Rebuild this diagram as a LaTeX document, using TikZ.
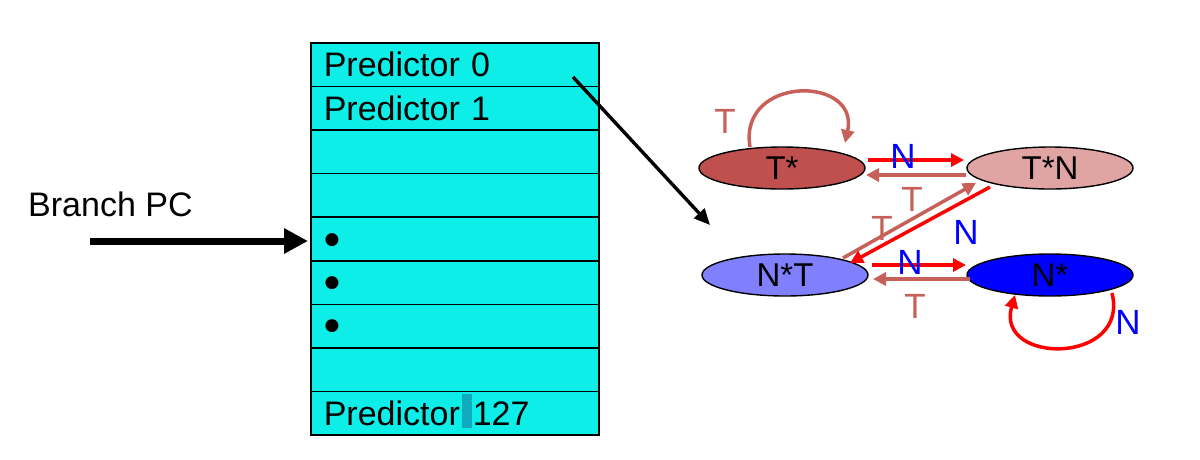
\documentclass[tikz,border=0pt]{standalone}
\usepackage{fontspec}
\setmainfont{Liberation Sans}
\newfontfamily\dejavufam{DejaVu Sans}
\usetikzlibrary{arrows.meta,shapes.geometric}
\definecolor{cyanfill}{RGB}{14,238,232}
\definecolor{hlteal}{RGB}{16,170,190}
\definecolor{tsfill}{RGB}{192,80,77}
\definecolor{tnfill}{RGB}{224,164,162}
\definecolor{ntfill}{RGB}{128,128,255}
\definecolor{nsfill}{RGB}{0,0,255}
\definecolor{brarrow}{RGB}{200,96,90}
\definecolor{lblblue}{RGB}{0,0,255}
\tikzset{
  tablerow/.style={draw=black, line width=1.6pt, fill=cyanfill, anchor=north west,
    minimum width=288pt, minimum height=43.6pt, text width=262pt, inner xsep=13pt,
    align=left, font=\fontsize{34}{38}\selectfont},
  bulletdot/.style={inner sep=0pt, font=\dejavufam\fontsize{17}{18}\selectfont},
  state/.style={ellipse, draw=black, line width=1.4pt, minimum width=166pt,
    minimum height=42pt, inner sep=0pt, font=\fontsize{33}{36}\selectfont},
  redarr/.style={draw=red, line width=3.5pt, -{Triangle[length=13pt,width=13pt]}},
  brarr/.style={draw=brarrow, line width=3.5pt, -{Triangle[length=13pt,width=13pt]}},
  lblT/.style={text=brarrow, font=\fontsize{35}{38}\selectfont, inner sep=0pt},
  lblN/.style={text=lblblue, font=\fontsize{35}{38}\selectfont, inner sep=0pt},
  bigtext/.style={font=\fontsize{34}{38}\selectfont, inner sep=0pt}
}
\begin{document}
\begin{tikzpicture}[x=1pt,y=-1pt]
\path[use as bounding box] (0,0) rectangle (1200,459);
% table
\node[tablerow] (r0) at (310,42.0) {Predictor 0};
\node[tablerow] (r1) at (310,85.6) {Predictor 1};
\node[tablerow] (r2) at (310,129.2) {};
\node[tablerow] (r3) at (310,172.8) {};
\node[tablerow] (r4) at (310,216.4) {};
\node[tablerow] (r5) at (310,260.0) {};
\node[tablerow] (r6) at (310,303.6) {};
\node[tablerow] (r7) at (310,347.2) {};
\node[tablerow] (r8) at (310,390.8) {Predictor\hspace{13pt}127};
\fill[hlteal] (462,394) rectangle (472,428);
\node[bulletdot] (b4) at (332,240) {●};
\node[bulletdot] (b5) at (332,283) {●};
\node[bulletdot] (b6) at (332,326) {●};
% Branch PC
\node[bigtext, anchor=west] (bpc) at (28,204) {Branch PC};
\coordinate (bpcstart) at (90,241);
\coordinate (bpcend) at (308,241);
\draw[line width=7pt, -{Triangle[length=24pt,width=24pt]}] (bpcstart) -- (bpcend);
% pointer arrow
\coordinate (ptrstart) at (573,77);
\coordinate (ptrend) at (710,225);
\draw[line width=3.4pt, -{Triangle[length=16pt,width=14pt]}] (ptrstart) -- (ptrend);
% states
\node[state, fill=tsfill] (ts) at (782,168) {T*};
\node[state, fill=tnfill] (tn) at (1050,168) {T*N};
\node[state, fill=ntfill] (nt) at (785,275) {N*T};
\node[state, fill=nsfill] (ns) at (1050,275) {N*};
% transitions
\draw[redarr] ([shift={(86,-8)}]ts.center) -- ([shift={(-86,-8)}]tn.center);
\draw[brarr] ([shift={(-84,7)}]tn.center) -- ([shift={(84,7)}]ts.center);
\draw[brarr] ([shift={(58,-17)}]nt.center) -- ([shift={(-74,15)}]tn.center);
\draw[redarr] ([shift={(-60,19)}]tn.center) -- ([shift={(65,-12)}]nt.center);
\draw[redarr] ([shift={(87,-10)}]nt.center) -- ([shift={(-84,-10)}]ns.center);
\draw[brarr] ([shift={(-80,4)}]ns.center) -- ([shift={(88,4)}]nt.center);
% self loops
\draw[brarr] ([shift={(-32,-21)}]ts.center) .. controls ([shift={(-44,-93)}]ts.center) and ([shift={(78,-93)}]ts.center) .. ([shift={(63,-25)}]ts.center);
\draw[redarr] ([shift={(62,18)}]ns.center) .. controls ([shift={(80,90)}]ns.center) and ([shift={(-55,90)}]ns.center) .. ([shift={(-35,20)}]ns.center);
% labels
\node[lblT] (lt1) at (725,121) {T};
\node[lblN] (ln1) at (903,156) {N};
\node[lblT] (lt2) at (912,199) {T};
\node[lblT] (lt3) at (882,228) {T};
\node[lblN] (ln2) at (966,232) {N};
\node[lblN] (ln3) at (910,262) {N};
\node[lblT] (lt4) at (915,306) {T};
\node[lblN] (ln4) at (1128,322) {N};
\end{tikzpicture}
\end{document}
